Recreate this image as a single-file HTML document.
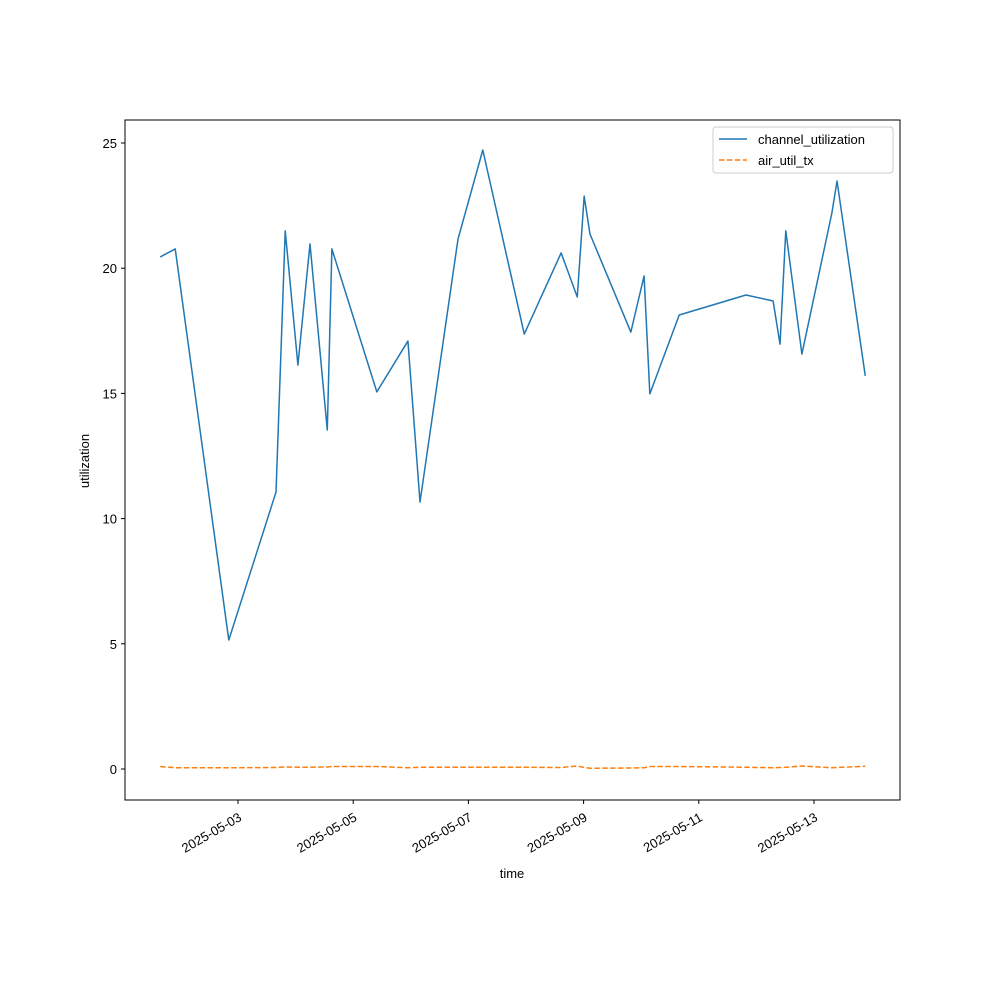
<!DOCTYPE html>
<html><head><meta charset="utf-8"><style>body{margin:0;background:#fff}svg{display:block;font-family:"Liberation Sans","DejaVu Sans",sans-serif}</style></head>
<body>
<svg id="chart" width="1000" height="1000" xmlns="http://www.w3.org/2000/svg"></svg>
<script>
// day-of-May (fractional) timestamps
const days = [1.65,1.91,2.84,3.66,3.82,4.04,4.25,4.55,4.63,5.41,5.95,6.16,6.82,7.25,7.97,8.61,8.89,9.01,9.11,9.82,10.05,10.15,10.66,11.82,12.29,12.41,12.51,12.79,13.31,13.40,13.89];
const channelUtil = [20.45,20.77,5.15,11.06,21.49,16.13,20.97,13.54,20.77,15.06,17.09,10.66,21.17,24.72,17.37,20.61,18.85,22.88,21.37,17.45,19.69,14.98,18.13,18.93,18.69,16.97,21.49,16.57,22.2,23.48,15.7];
const airUtil = [0.1,0.05,0.05,0.06,0.08,0.07,0.07,0.08,0.1,0.1,0.05,0.07,0.07,0.07,0.07,0.06,0.12,0.06,0.03,0.04,0.05,0.1,0.1,0.07,0.05,0.06,0.07,0.12,0.05,0.06,0.11];
const xTickDays = [3,5,7,9,11,13];
const xTickLabels = ["2025-05-03","2025-05-05","2025-05-07","2025-05-09","2025-05-11","2025-05-13"];
const yTicks = [0,5,10,15,20,25];

const svg = document.getElementById('chart');
const NS = 'http://www.w3.org/2000/svg';
const L=125,R=900,T=120,B=800;
const xs = d => 238 + (d-3)*57.6;
const ys = v => 769 - v*25.04;
function mk(tag, attrs, parent){const e=document.createElementNS(NS,tag);for(const k in attrs)e.setAttribute(k,attrs[k]);(parent||svg).appendChild(e);return e;}

const frame = mk('rect',{x:L,y:T,width:R-L,height:B-T,fill:'none',stroke:'#000','stroke-width':1});



xTickDays.forEach((d,i)=>{
  const x=xs(d);
  const t=mk('line',{x1:x,y1:B,x2:x,y2:B+4,stroke:'#000'});
  
  
  const lb=mk('text',{x:x,y:B+12,'font-size':13,'text-anchor':'end',transform:`rotate(-30 ${x} ${B+12})`,dy:'0.7em'});
  lb.textContent=xTickLabels[i];
  
  
});
yTicks.forEach(v=>{
  const y=ys(v);
  const t=mk('line',{x1:L-4,y1:y,x2:L,y2:y,stroke:'#000'});
  
  
  const lb=mk('text',{x:L-8,y:y+5,'font-size':13,'text-anchor':'end'});
  lb.textContent=v;
  
  
});
const xt=mk('text',{x:512,y:878,'font-size':13,'text-anchor':'middle'});
xt.textContent='time';


const yt=mk('text',{x:89,y:461,'font-size':13,'text-anchor':'middle',transform:'rotate(-90 89 461)'});
yt.textContent='utilization';



const p1=mk('polyline',{points:days.map((d,i)=>xs(d)+','+ys(channelUtil[i])).join(' '),fill:'none',stroke:'#1f77b4','stroke-width':1.5,'stroke-linejoin':'round'});


const p2=mk('polyline',{points:days.map((d,i)=>xs(d)+','+ys(airUtil[i])).join(' '),fill:'none',stroke:'#ff7f0e','stroke-width':1.5,'stroke-dasharray':'5.5,2.4'});



const lg=mk('g',{});


mk('rect',{x:713,y:127,width:180,height:46,rx:3,fill:'#fff',stroke:'#ccc'},lg);
mk('line',{x1:719,y1:139,x2:747,y2:139,stroke:'#1f77b4','stroke-width':1.5},lg);
const t1=mk('text',{x:758,y:144,'font-size':13},lg);t1.textContent='channel_utilization';


mk('line',{x1:719,y1:160,x2:747,y2:160,stroke:'#ff7f0e','stroke-width':1.5,'stroke-dasharray':'5.5,2.4'},lg);
const t2=mk('text',{x:758,y:165,'font-size':13},lg);t2.textContent='air_util_tx';


</script>
</body></html>
